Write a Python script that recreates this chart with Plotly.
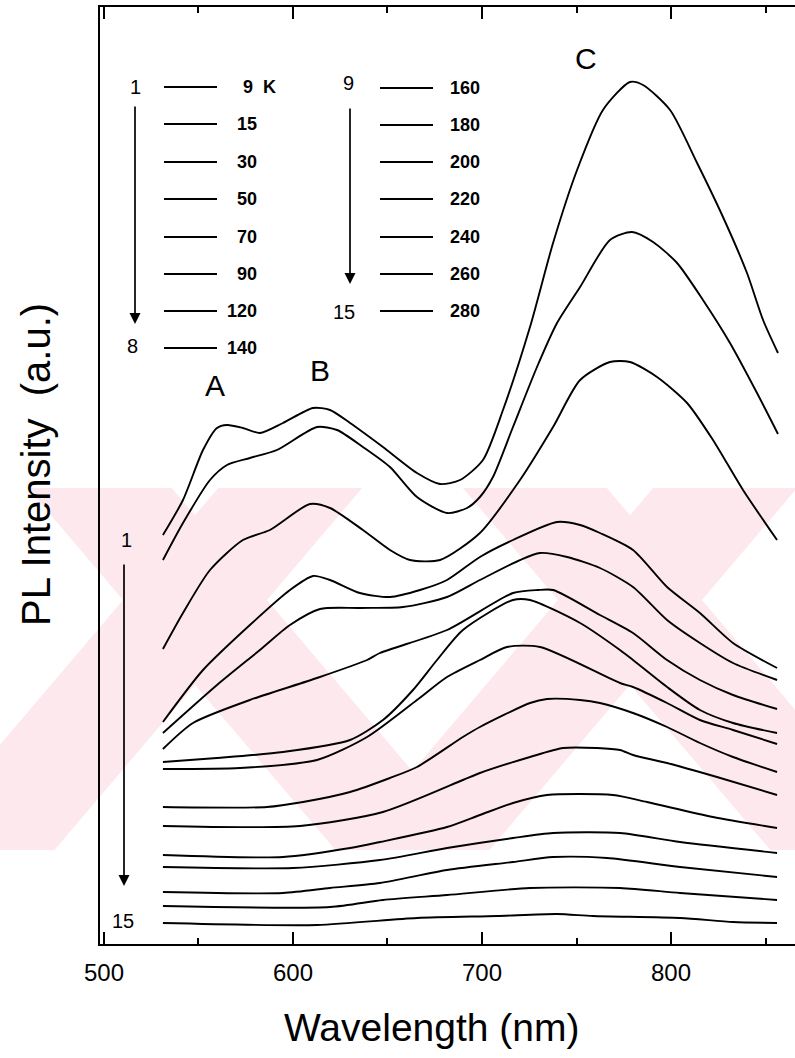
import plotly.graph_objects as go

# ---------------- data (wavelength in nm, PL intensity in a.u.) ----------------
wl_1 = [531.2, 541.8, 552.4, 559.8, 565.1, 573.5, 582.5, 594.7, 610.6, 619.6, 630.2, 647.6, 665.6, 677.8, 688.4, 700.5, 711.1, 725.4, 737.6, 750.3, 764.0, 778.3, 785.2, 799.5, 813.8, 827.5, 840.2, 848.7, 856.6]
pl_1 = [409, 444, 494, 516, 519, 516, 511, 521, 536, 534, 521, 497, 471, 460, 464, 484, 534, 617, 701, 774, 834, 862, 859, 834, 781, 727, 671, 624, 591]
wl_2 = [531.2, 541.8, 556.1, 565.1, 577.2, 591.5, 612.7, 623.3, 637.0, 651.3, 665.6, 681.5, 692.1, 698.9, 705.8, 716.4, 729.1, 739.7, 751.9, 767.7, 779.4, 790.5, 803.2, 816.9, 831.2, 845.5, 856.6]
pl_2 = [384, 421, 464, 479, 486, 494, 517, 514, 497, 477, 447, 431, 436, 447, 467, 517, 577, 621, 657, 704, 712, 702, 681, 644, 601, 551, 510]
wl_3 = [531.2, 541.8, 556.1, 573.5, 587.8, 609.0, 619.6, 637.0, 651.3, 661.9, 677.8, 698.9, 720.1, 737.6, 751.9, 767.7, 778.3, 792.6, 808.5, 822.2, 838.1, 856.1]
pl_3 = [295, 331, 374, 404, 414, 440, 436, 414, 394, 384, 384, 411, 464, 517, 564, 582, 582, 567, 541, 504, 454, 404]
wl_4 = [531.2, 552.4, 577.2, 598.4, 610.6, 619.6, 635.4, 651.3, 667.2, 681.5, 698.9, 716.4, 739.7, 751.9, 762.4, 779.9, 797.9, 815.3, 832.8, 856.1]
pl_4 = [222, 274, 319, 354, 368, 364, 351, 347, 354, 364, 387, 404, 422, 419, 411, 394, 357, 331, 301, 276]
wl_5 = [531.2, 559.8, 582.5, 598.4, 614.3, 635.4, 658.2, 681.5, 698.9, 720.1, 730.7, 745.0, 762.4, 779.9, 797.9, 815.3, 832.8, 856.1]
pl_5 = [211, 259, 294, 319, 335, 336, 337, 347, 364, 384, 391, 387, 376, 357, 324, 301, 281, 264]
wl_6 = [531.2, 547.1, 577.2, 612.7, 639.2, 646.0, 681.5, 716.4, 729.6, 737.6, 762.4, 779.9, 797.9, 815.3, 832.8, 856.1]
pl_6 = [195, 221, 244, 266, 284, 291, 314, 351, 354, 354, 329, 311, 284, 264, 249, 235]
wl_7 = [531.2, 559.8, 594.7, 630.2, 647.6, 663.5, 676.2, 689.9, 716.4, 725.4, 751.9, 773.0, 779.9, 797.9, 815.3, 832.8, 856.1]
pl_7 = [182, 186, 192, 204, 224, 254, 284, 314, 344, 344, 321, 294, 284, 257, 234, 221, 211]
wl_8 = [531.2, 572.0, 612.7, 639.2, 665.6, 681.5, 698.9, 713.2, 730.7, 773.0, 779.9, 797.9, 815.3, 832.8, 856.1]
pl_8 = [175, 176, 184, 207, 244, 267, 284, 297, 297, 261, 257, 241, 224, 214, 200]
wl_9 = [531.2, 586.2, 605.3, 630.2, 651.3, 665.6, 689.9, 698.9, 725.4, 734.4, 751.9, 762.4, 779.9, 797.9, 815.3, 832.8, 856.1]
pl_9 = [137, 137, 142, 152, 166, 177, 207, 217, 241, 245, 244, 241, 231, 217, 201, 187, 172]
wl_10 = [531.2, 603.7, 647.6, 689.9, 698.9, 725.4, 742.9, 760.8, 773.0, 779.9, 797.9, 824.3, 856.1]
pl_10 = [118, 118, 132, 164, 171, 187, 196, 196, 194, 189, 181, 167, 149]
wl_11 = [531.2, 594.7, 630.2, 646.0, 681.5, 698.9, 716.4, 734.4, 769.3, 787.3, 822.2, 856.1]
pl_11 = [89, 87, 96, 102, 117, 129, 141, 149, 149, 142, 127, 116]
wl_12 = [531.2, 600.0, 646.0, 681.5, 716.4, 737.6, 773.0, 804.8, 856.1]
pl_12 = [77, 76, 84, 96, 106, 111, 111, 102, 91]
wl_13 = [531.2, 594.7, 619.6, 646.0, 681.5, 716.4, 737.6, 766.1, 804.8, 856.1]
pl_13 = [52, 51, 56, 61, 74, 82, 87, 86, 77, 67]
wl_14 = [531.2, 619.6, 647.6, 681.5, 725.4, 773.0, 804.8, 856.1]
pl_14 = [38, 37, 44, 49, 56, 56, 51, 44]
wl_15 = [531.2, 612.7, 665.6, 707.9, 739.7, 758.7, 804.8, 832.8, 856.1]
pl_15 = [21, 19, 26, 28, 30, 28, 26, 22, 21]

temps_col1 = ["9 K", "15", "30", "50", "70", "90", "120", "140"]
temps_col2 = ["160", "180", "200", "220", "240", "260", "280"]
x_ticks = [500, 600, 700, 800]
x_tick_labels = ["500", "600", "700", "800"]
peak_labels = ["A", "B", "C"]

wavelengths = [wl_1, wl_2, wl_3, wl_4, wl_5, wl_6, wl_7, wl_8, wl_9, wl_10, wl_11, wl_12, wl_13, wl_14, wl_15]
intensities = [pl_1, pl_2, pl_3, pl_4, pl_5, pl_6, pl_7, pl_8, pl_9, pl_10, pl_11, pl_12, pl_13, pl_14, pl_15]

# ---------------- layout geometry ----------------
W, H = 795, 1058
L, R, T, B = 100, 0, 7, 114
X_RANGE = [497.9, 865.6]
Y_RANGE = [0, 937]
FONT = "Liberation Sans, Arial, sans-serif"


def xd(px):
    return X_RANGE[0] + (px - L) / (W - L - R) * (X_RANGE[1] - X_RANGE[0])


def yd(py):
    return Y_RANGE[0] + (H - B - py) / (H - B - T) * (Y_RANGE[1] - Y_RANGE[0])


def xp(px):
    return (px - L) / (W - L - R)


def yp(py):
    return (H - B - py) / (H - B - T)


fig = go.Figure()
for wl, pl in zip(wavelengths, intensities):
    fig.add_trace(go.Scatter(x=wl, y=pl, mode="lines",
                             line=dict(color="black", width=1.9, shape="spline", smoothing=0.7),
                             showlegend=False, hoverinfo="skip"))

shapes = []
# faint watermark (pink X shapes behind the plot)
PINK = "#fde9ed"
Y0, Y1 = 488, 850
for cx, cy in [(195, 600), (630, 600)]:
    hw = 72
    k = 0.85
    for d in (1, -1):
        xt = cx - d * k * (cy - Y0)
        xb = cx + d * k * (Y1 - cy)
        pts = [(xt - hw, Y0), (xt + hw, Y0), (xb + hw, Y1), (xb - hw, Y1)]
        path = "M " + " L ".join(f"{xp(a):.4f},{yp(b):.4f}" for a, b in pts) + " Z"
        shapes.append(dict(type="path", path=path, xref="paper", yref="paper",
                           fillcolor=PINK, line=dict(width=0), layer="below"))

# legend line segments
ann = []
lab_font = dict(family=FONT, size=18, color="black")
col1_y = [87, 124, 162, 199, 237, 274, 311, 348]
for i, lab in enumerate(temps_col1):
    yy = col1_y[i]
    shapes.append(dict(type="line", xref="x", yref="y", x0=xd(164), x1=xd(217), y0=yd(yy), y1=yd(yy),
                       line=dict(color="black", width=1.8)))
    if lab == "9 K":
        ann.append(dict(x=xd(241), y=yd(yy), text="<b>9  K</b>", xanchor="left", yanchor="middle",
                        showarrow=False, font=lab_font))
    else:
        ann.append(dict(x=xd(259), y=yd(yy), text=f"<b>{lab}</b>", xanchor="right", yanchor="middle",
                        showarrow=False, font=lab_font))
col2_y = [88, 125, 162, 199, 237, 274, 311]
for i, lab in enumerate(temps_col2):
    yy = col2_y[i]
    shapes.append(dict(type="line", xref="x", yref="y", x0=xd(380), x1=xd(433), y0=yd(yy), y1=yd(yy),
                       line=dict(color="black", width=1.8)))
    ann.append(dict(x=xd(482), y=yd(yy), text=f"<b>{lab}</b>", xanchor="right", yanchor="middle",
                    showarrow=False, font=lab_font))

small = dict(family=FONT, size=20, color="black")
for txt, x0, y0 in [("1", 135, 87), ("8", 132, 346), ("9", 348, 83), ("15", 344, 312),
                    ("1", 126, 540), ("15", 123, 921)]:
    ann.append(dict(x=xd(x0), y=yd(y0), text=txt, xanchor="center", yanchor="middle",
                    showarrow=False, font=small))

big = dict(family=FONT, size=30, color="black")
for txt, x0, y0 in zip(peak_labels, [215, 320, 586], [385, 370, 58]):
    ann.append(dict(x=xd(x0), y=yd(y0), text=txt, xanchor="center", yanchor="middle",
                    showarrow=False, font=big))

# vertical arrows
for xa, ytop, ybot in [(135, 105, 324), (350, 107, 284), (124, 563, 886)]:
    ann.append(dict(x=xd(xa), y=yd(ybot), ax=xd(xa), ay=yd(ytop), axref="x", ayref="y",
                    xref="x", yref="y", text="", showarrow=True, arrowhead=2,
                    arrowsize=1.3, arrowwidth=1.7, arrowcolor="black"))

# axis titles
ann.append(dict(x=xp(36), y=yp(465), xref="paper", yref="paper", text="PL Intensity  (a.u.)",
                textangle=-90, xanchor="center", yanchor="middle", showarrow=False,
                font=dict(family=FONT, size=40, color="black")))
ann.append(dict(x=xp(432), y=yp(1027), xref="paper", yref="paper", text="Wavelength (nm)",
                xanchor="center", yanchor="middle", showarrow=False,
                font=dict(family=FONT, size=39, color="black")))

fig.update_layout(
    width=W, height=H,
    margin=dict(l=L, r=R, t=T, b=B, pad=0),
    paper_bgcolor="white", plot_bgcolor="rgba(0,0,0,0)",
    shapes=shapes, annotations=ann, showlegend=False,
    xaxis=dict(range=X_RANGE, tickvals=x_ticks, ticktext=x_tick_labels, ticks="inside",
               ticklen=12, tickwidth=2, tickcolor="black", showline=True, linewidth=2,
               linecolor="black", mirror="ticks", showgrid=False, zeroline=False,
               tickfont=dict(family=FONT, size=24, color="black"), ticklabelstandoff=6,
               minor=dict(dtick=50, tick0=500, ticks="inside", ticklen=6, tickwidth=1.5,
                          tickcolor="black", showgrid=False)),
    yaxis=dict(range=Y_RANGE, showticklabels=False, ticks="", showline=True, linewidth=2,
               linecolor="black", mirror=False, showgrid=False, zeroline=False),
)

fig.write_html("out.html")
